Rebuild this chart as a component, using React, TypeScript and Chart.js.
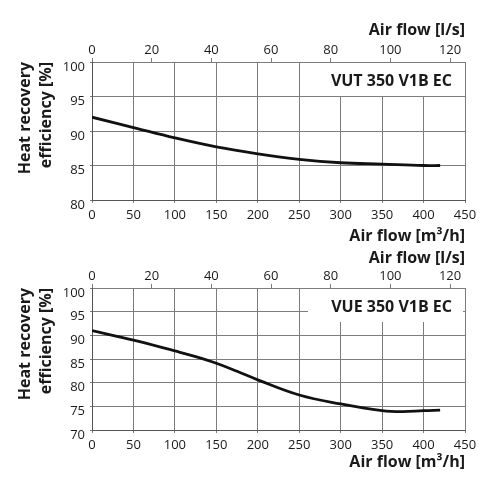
import { useEffect, useRef } from "react";
import Chart from "chart.js/auto";

// air flow [m³/h] and heat recovery efficiency [%]
const vutFlow = [0, 50, 100, 150, 200, 250, 300, 350, 400, 420];
const vutEfficiency = [92, 90.5, 89.0, 87.7, 86.7, 85.9, 85.4, 85.2, 85.0, 85.0];

const vueFlow = [0, 50, 100, 125, 150, 175, 200, 250, 300, 350, 375, 400, 420];
const vueEfficiency = [91, 89, 86.7, 85.5, 84.1, 82.4, 80.6, 77.4, 75.5, 74.1, 73.9, 74.1, 74.2];

const FONT = "'Open Sans', sans-serif";
const textColor = "#1a1a1a";
const gridColor = "#7c7c7c";

type Props = {
    model: string;
    flows: number[];
    values: number[];
    yMin: number;
    top: number;
    height: number;
    topBand: number;
    bottomBand: number;
    topTitlePad: number;
    bottomTitlePad: number;
};

const EfficiencyChart = (p: Props) => {
    const chartRef = useRef<HTMLCanvasElement | null>(null);

    useEffect(() => {
        const ctx = chartRef.current!.getContext("2d")!;

        // white label box with the model name, top right of the plot
        const modelBox = {
            id: "modelBox",
            beforeDatasetsDraw(chart: Chart) {
                const { ctx, chartArea } = chart;
                ctx.save();
                ctx.fillStyle = "#fff";
                ctx.fillRect(chartArea.right - 157, chartArea.top + 1, 155, 33);
                ctx.font = `bold 16px ${FONT}`;
                ctx.fillStyle = textColor;
                ctx.textAlign = "right";
                ctx.textBaseline = "middle";
                ctx.fillText(p.model, chartArea.right - 13, chartArea.top + 19);
                ctx.restore();
            }
        };

        const tickFont = { family: FONT, size: 13 };
        const titleFont = { family: FONT, size: 16, weight: "bold" as const };

        const chart = new Chart(ctx, {
            type: "line",
            data: {
                datasets: [{
                    data: p.flows.map((x, i) => ({ x, y: p.values[i] })),
                    borderColor: "#111",
                    borderWidth: 2.8,
                    pointRadius: 0,
                    tension: 0.4,
                    xAxisID: "x",
                    yAxisID: "y"
                }]
            },
            options: {
                animation: false,
                responsive: false,
                layout: { padding: { right: 35 } },
                plugins: {
                    legend: { display: false },
                    tooltip: { enabled: false }
                },
                scales: {
                    x: {
                        type: "linear",
                        position: "bottom",
                        min: 0,
                        max: 450,
                        ticks: { stepSize: 50, padding: 4, color: textColor, font: tickFont },
                        grid: { color: gridColor, tickLength: 3 },
                        border: { color: "#555" },
                        title: {
                            display: true,
                            text: "Air flow [m³/h]",
                            align: "end",
                            color: textColor,
                            font: titleFont,
                            padding: { top: 0, bottom: p.bottomTitlePad }
                        },
                        afterFit: (s) => { s.height = p.bottomBand; }
                    },
                    x2: {
                        type: "linear",
                        position: "top",
                        min: 0,
                        max: 125,
                        ticks: { stepSize: 20, includeBounds: false, padding: 0, color: textColor, font: tickFont },
                        grid: { drawOnChartArea: false, color: gridColor, tickLength: 4 },
                        border: { color: gridColor },
                        title: {
                            display: true,
                            text: "Air flow [l/s]",
                            align: "end",
                            color: textColor,
                            font: titleFont,
                            padding: { top: p.topTitlePad, bottom: 0 }
                        },
                        afterFit: (s) => { s.height = p.topBand; }
                    },
                    y: {
                        min: p.yMin,
                        max: 100,
                        ticks: { stepSize: 5, padding: 5, labelOffset: 5, color: textColor, font: tickFont },
                        grid: { color: gridColor, tickLength: 2 },
                        border: { color: "#555" },
                        title: {
                            display: true,
                            text: ["Heat recovery", "efficiency [%]"],
                            align: "end",
                            color: textColor,
                            font: { ...titleFont, lineHeight: 1.3 },
                            padding: { top: 15.5, bottom: 0 }
                        },
                        afterFit: (s) => { s.width = 92; }
                    }
                }
            },
            plugins: [modelBox]
        });

        return () => chart.destroy();
    }, []);

    return (
        <div style={{ position: "absolute", left: 0, top: p.top, width: 500, height: p.height }}>
            <canvas ref={chartRef} width={500} height={p.height} style={{ display: "block" }} />
        </div>
    );
};

const App = () => (
    <div style={{ position: "absolute", left: 0, top: 0, width: 500, height: 500, background: "#fff" }}>
        <EfficiencyChart
            model="VUT 350 V1B EC"
            flows={vutFlow}
            values={vutEfficiency}
            yMin={80}
            top={0}
            height={250}
            topBand={62}
            bottomBand={50}
            topTitlePad={20.4}
            bottomTitlePad={4.4}
        />
        <EfficiencyChart
            model="VUE 350 V1B EC"
            flows={vueFlow}
            values={vueEfficiency}
            yMin={70}
            top={230}
            height={270}
            topBand={58}
            bottomBand={70}
            topTitlePad={18.9}
            bottomTitlePad={27.9}
        />
    </div>
);

export default App;
